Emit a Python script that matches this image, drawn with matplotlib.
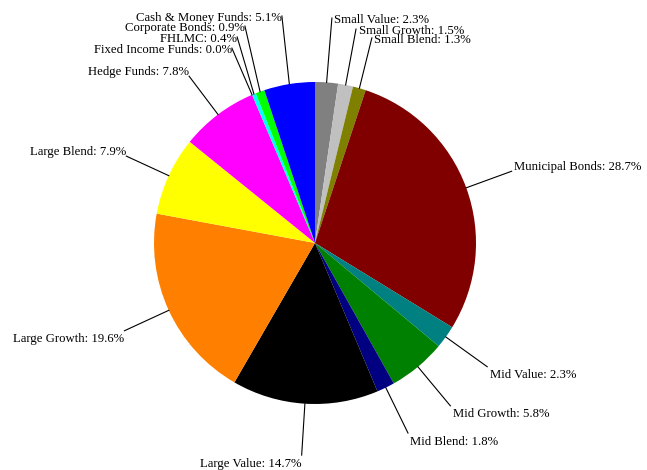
import numpy as np
import matplotlib
matplotlib.use("Agg")
import matplotlib.pyplot as plt

labels = ["Small Value", "Small Growth", "Small Blend", "Municipal Bonds",
          "Mid Value", "Mid Growth", "Mid Blend", "Large Value", "Large Growth",
          "Large Blend", "Hedge Funds", "Fixed Income Funds", "FHLMC",
          "Corporate Bonds", "Cash & Money Funds"]
values = [2.3, 1.5, 1.3, 28.7, 2.3, 5.8, 1.8, 14.7, 19.6, 7.9, 7.8, 0.0, 0.4, 0.9, 5.1]
colors = ["#808080", "#c0c0c0", "#808000", "#800000", "#008080", "#008000",
          "#000080", "#000000", "#ff8000", "#ffff00", "#ff00ff", "#ff0000",
          "#00ffff", "#00ff00", "#0000ff"]

# label layout: radius factor / angle (deg clockwise from top) of leader-line end, vertical anchor
label_r = [1.401, 1.353, 1.322, 1.30, 1.317, 1.315, 1.314, 1.32, 1.303, 1.29, 1.298,
           1.316, 1.368, 1.416, 1.425]
label_a = [4.3, 10.85, 15.5, None, None, None, None, None, None, None, None,
           336.9, 339.3, 342.1, 351.7]
label_va = ["center", "center", "center", "baseline", "top", "top", "top", "top", "top",
            "baseline", "baseline", "center", "center", "center", "center"]

W, H = 647, 470
fig = plt.figure(figsize=(W / 100, H / 100), dpi=100)
ax = fig.add_axes([0, 0, 1, 1])
cx, cy, R = 315, H - 243, 161

ax.pie(values, colors=colors, startangle=90, counterclock=False,
       center=(cx, cy), radius=R, wedgeprops=dict(linewidth=0))
ax.set_xlim(0, W)
ax.set_ylim(0, H)
ax.set_aspect("equal")
ax.axis("off")

total = sum(values)
cum = np.cumsum([0] + values[:-1])
font = dict(family="Liberation Serif", size=9.2, color="black")
offsets = {"center": -2, "baseline": 1, "top": -2.5}
for i, (lab, v) in enumerate(zip(labels, values)):
    mid = (cum[i] + v / 2) / total * 360.0
    ang = label_a[i] if label_a[i] is not None else mid
    t0 = np.radians(mid)
    t1 = np.radians(ang)
    x0, y0 = cx + R * np.sin(t0), cy + R * np.cos(t0)
    x1, y1 = cx + R * label_r[i] * np.sin(t1), cy + R * label_r[i] * np.cos(t1)
    ax.plot([x0, x1], [y0, y1], color="black", linewidth=0.8)
    right = np.sin(t1) >= 0
    if abs(ang - 180) < 15:
        right = False
    ax.text(x1 + (2.5 if right else 0), y1 + offsets[label_va[i]], f"{lab}: {v:.1f}%",
            ha="left" if right else "right", va=label_va[i], **font)

fig.savefig("out.png", dpi=100)
